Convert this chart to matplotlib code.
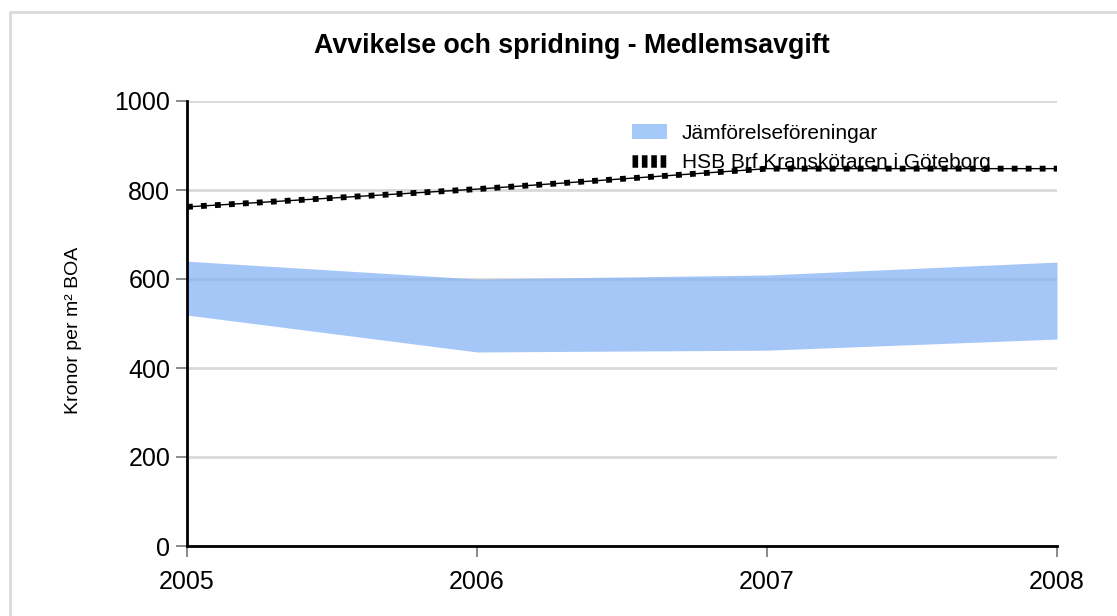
import matplotlib.pyplot as plt
from matplotlib.patches import Rectangle, Patch
from matplotlib.lines import Line2D

years = [2005, 2006, 2007, 2008]
band_low = [519, 436, 440, 465]
band_high = [640, 600, 609, 638]
hsb_values = [762, 802, 848, 848]
yticks = [0, 200, 400, 600, 800, 1000]

plt.rcParams['font.family'] = ['Liberation Sans', 'DejaVu Sans']

W, H = 1117, 616
fig = plt.figure(figsize=(W / 100, H / 100), dpi=100)
ax = fig.add_axes([187 / W, 1 - 546 / H, (1057 - 187) / W, (546 - 101) / H])

# light frame around the whole chart
fig.patches.append(Rectangle((10 / W, -0.2), 1.2, 1.2 - 12 / H, transform=fig.transFigure,
                             fill=False, edgecolor='#d9d9d9', lw=2, zorder=0))

ax.set_axisbelow(True)
ax.yaxis.grid(True, color='#d9d9d9', lw=2)
ax.fill_between(years, band_low, band_high, color='#7fb0f5', alpha=0.7, lw=0, zorder=2)
ax.plot(years, hsb_values, color='black', lw=1, zorder=3)
ax.plot(years, hsb_values, color='black', lw=4.2, dashes=(1.0, 1.4),
        dash_capstyle='butt', zorder=3)

ax.set_xlim(2005, 2008)
ax.set_ylim(0, 1000)
ax.set_xticks(years)
ax.set_yticks(yticks)
ax.tick_params(axis='both', colors='#777777', labelcolor='black', labelsize=18,
               length=8, width=1.2, direction='out')
ax.tick_params(axis='y', pad=4)
ax.tick_params(axis='x', pad=9)
for s in ['top', 'right']:
    ax.spines[s].set_visible(False)
for s in ['left', 'bottom']:
    ax.spines[s].set_linewidth(2)
    ax.spines[s].set_zorder(4)

fig.text(572 / W, 1 - 46 / H, 'Avvikelse och spridning - Medlemsavgift',
         ha='center', va='center', fontsize=19.3, fontweight='bold')
fig.text(73 / W, 1 - 330 / H, 'Kronor per m² BOA', rotation=90,
         ha='center', va='center', fontsize=14)

handles = [Patch(facecolor='#a4c8f8', edgecolor='none'),
           Line2D([], [], color='black', lw=9, dashes=(0.45, 0.3), dash_capstyle='butt')]
ax.legend(handles, ['Jämförelseföreningar', 'HSB Brf Kranskötaren i Göteborg'],
          loc='upper left', bbox_to_anchor=(632 / W, 1 - 124 / H),
          bbox_transform=fig.transFigure, frameon=False, fontsize=15,
          handlelength=1.7, handletextpad=0.7, labelspacing=0.5,
          borderpad=0, borderaxespad=0)

fig.savefig('out.png', dpi=100)
